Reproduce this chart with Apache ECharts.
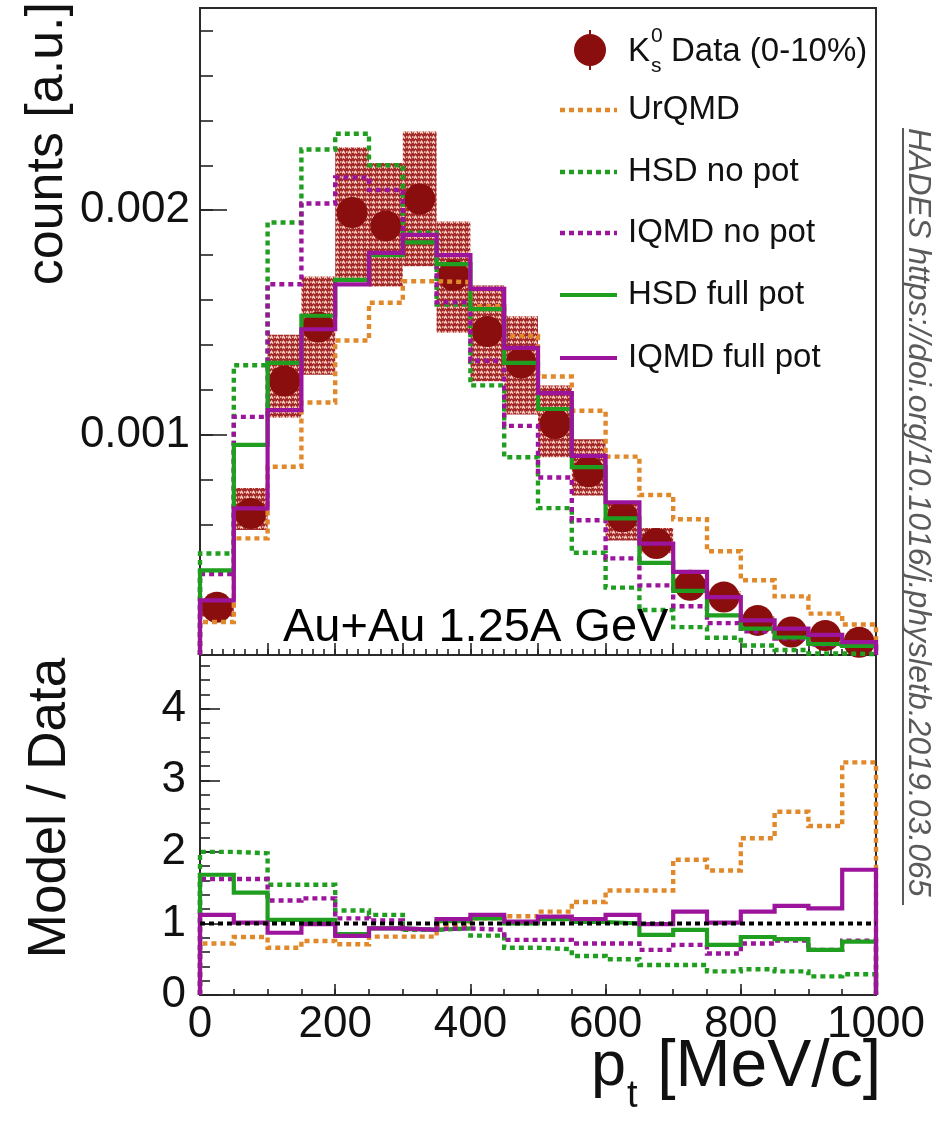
<!DOCTYPE html>
<html>
<head>
<meta charset="utf-8">
<title>K0s pt spectrum, Au+Au 1.25A GeV</title>
<script src="https://cdn.jsdelivr.net/npm/echarts@6/dist/echarts.min.js"></script>
<style>
  html, body { margin: 0; padding: 0; background: #fff; }
  #chart { width: 944px; height: 1121px; }
</style>
</head>
<body>
<div id="chart"></div>
<script>
// ---- data: pt bins of 50 MeV/c (lower edges) ----
const binLow = [0, 50, 100, 150, 200, 250, 300, 350, 400, 450,
                500, 550, 600, 650, 700, 750, 800, 850, 900, 950];
const binWidth = 50;

// measured K0s spectrum (0-10%), counts [a.u.]
const dataK0s = [0.000232, 0.00065, 0.00124, 0.00148, 0.00199, 0.00193, 0.00205, 0.00171, 0.00146, 0.00132,
                 0.00105, 0.000836, 0.000635, 0.000516, 0.00033, 0.000278, 0.000174, 0.000122, 0.000107, 0.000077];
// systematic band (lower / upper edge)
const sysLow  = [0.00019, 0.000576, 0.001076, 0.001268, 0.00168, 0.00166, 0.00175, 0.001454, 0.001238, 0.00109,
                 0.0009, 0.00073, 0.00053, 0.000473, 0.0003, 0.00025, 0.000155, 0.000108, 0.000094, 0.000067];
const sysHigh = [0.000262, 0.000763, 0.001446, 0.001705, 0.00228, 0.00221, 0.00235, 0.00195, 0.001665, 0.001528,
                 0.00122, 0.00098, 0.0007, 0.000585, 0.00036, 0.000305, 0.000193, 0.000136, 0.00012, 0.000087];

// transport model predictions
const urqmd       = [0.000167, 0.000539, 0.000858, 0.001144, 0.00142, 0.001588, 0.001684, 0.00168, 0.001573, 0.00144,
                     0.00126, 0.001107, 0.000903, 0.000732, 0.000624, 0.000482, 0.000353, 0.000281, 0.000204, 0.000156];
const hsdNoPot    = [0.000472, 0.00131, 0.001945, 0.00227, 0.00234, 0.0022, 0.0019, 0.00158, 0.00122, 0.0009,
                     0.000674, 0.000475, 0.00032, 0.00022, 0.000144, 0.000097, 0.000062, 0.000042, 0.000027, 0.000024];
const iqmdNoPot   = [0.00038, 0.00108, 0.00167, 0.00203, 0.002146, 0.00209, 0.00186, 0.00159, 0.00133, 0.00104,
                     0.00081, 0.00062, 0.00045, 0.00033, 0.000237, 0.000162, 0.000125, 0.000093, 0.000067, 0.000059];
const hsdFullPot  = [0.000397, 0.000955, 0.00132, 0.00153, 0.00169, 0.0018, 0.001857, 0.00176, 0.00156, 0.00132,
                     0.001115, 0.000856, 0.000628, 0.00043, 0.000305, 0.000196, 0.000137, 0.000098, 0.000069, 0.00006];
const iqmdFullPot = [0.000263, 0.000673, 0.00111, 0.00147, 0.00167, 0.00181, 0.00189, 0.0018, 0.00165, 0.001387,
                     0.001186, 0.000906, 0.0007, 0.000516, 0.00039, 0.000278, 0.000174, 0.000137, 0.00011, 0.000077];

// model / data ratios
const ratioUrqmd       = [0.72, 0.81, 0.66, 0.755, 0.71, 0.815, 0.815, 0.98, 1.07, 1.10,
                          1.165, 1.30, 1.46, 1.46, 1.89, 1.74, 2.19, 2.56, 2.36, 3.25];
const ratioHsdNoPot    = [2.0, 1.98, 1.54, 1.54, 1.18, 1.12, 0.91, 0.93, 0.83, 0.66,
                          0.64, 0.545, 0.5, 0.42, 0.42, 0.33, 0.36, 0.33, 0.26, 0.29];
const ratioIqmdNoPot   = [1.62, 1.62, 1.32, 1.35, 1.07, 1.04, 0.92, 0.93, 0.91, 0.77,
                          0.77, 0.72, 0.72, 0.63, 0.70, 0.58, 0.72, 0.76, 0.63, 0.76];
const ratioHsdFullPot  = [1.68, 1.43, 1.05, 1.05, 0.85, 0.93, 0.91, 1.03, 1.07, 1.0,
                          1.06, 1.02, 1.0, 0.84, 0.91, 0.70, 0.81, 0.78, 0.63, 0.745];
const ratioIqmdFullPot = [1.12, 1.01, 0.87, 0.99, 0.825, 0.93, 0.91, 1.06, 1.12, 1.025,
                          1.095, 1.06, 1.12, 0.99, 1.165, 1.01, 1.165, 1.245, 1.21, 1.75];
const unity = [1, 1];

// axis ranges and tick labels
const ptRange = [0, 1000];
const countsRange = [0.00002, 0.0029];
const ratioRange = [0, 4.75];
const ptLabels = [0, 200, 400, 600, 800, 1000];
const countsLabels = [0.001, 0.002];
const ratioLabels = [0, 1, 2, 3, 4];

// ---- styling ----
const FONT = "'Liberation Sans', Arial, Helvetica, sans-serif";
const TXT = '#111';
const C_DATA = '#8a0e0e';
const C_URQMD = '#e0882a';
const C_HSD = '#1f9e1f';
const C_IQMD = '#9c149c';
const DASH = [5, 4];
const W_DASH = 4.4;
const W_SOLID = 4.2;

// red hatched fill for the systematic boxes
function hatchCanvas() {
  const c = document.createElement('canvas');
  c.width = 6; c.height = 5;
  const g = c.getContext('2d');
  g.fillStyle = '#a32a2a';
  g.fillRect(0, 0, 6, 5);
  g.strokeStyle = '#f8d2c4';
  g.lineWidth = 1.5;
  g.beginPath();
  g.moveTo(0, 3.6); g.lineTo(1.5, 1.4); g.lineTo(3, 3.6);
  g.stroke();
  g.fillStyle = '#eaa898';
  g.fillRect(4, 1, 1.5, 2);
  return c;
}
const hatch = { image: hatchCanvas(), repeat: 'repeat' };

// histogram outline points (drawn with step:'end'), starting and ending on the floor
function histPoints(values, floor) {
  const last = binLow[binLow.length - 1] + binWidth;
  const pts = [[binLow[0], floor]];
  values.forEach((v, i) => pts.push([binLow[i], v]));
  pts.push([last, values[values.length - 1]]);
  pts.push([last, floor]);
  return pts;
}

function stepSeries(name, values, floor, color, dashed, xi, yi, z) {
  return {
    name, type: 'line', step: 'end', xAxisIndex: xi, yAxisIndex: yi,
    data: histPoints(values, floor), symbol: 'none', silent: true, z,
    lineStyle: { color, width: dashed ? W_DASH : W_SOLID, type: dashed ? DASH : 'solid', cap: 'butt', join: 'miter' },
    animation: false, clip: true
  };
}

function range(a, b, step) {
  const out = [];
  for (let v = a; v <= b + 1e-9; v += step) out.push(+v.toFixed(6));
  return out;
}

function tickAxis(grid, pos, min, max, ticks, len, labels, labelOpt) {
  return {
    type: 'value', gridIndex: grid, position: pos, min, max,
    axisLine: { show: false, onZero: false },
    splitLine: { show: false },
    axisTick: { show: true, inside: true, length: len, customValues: ticks,
                lineStyle: { color: '#222', width: 1.6 } },
    axisLabel: labels ? Object.assign({ show: true, customValues: labels, color: TXT,
                fontFamily: FONT, fontSize: 44 }, labelOpt || {}) : { show: false }
  };
}

const chart = echarts.init(document.getElementById('chart'), null, { renderer: 'canvas' });

const topFloor = countsRange[0];
const botFloor = ratioRange[0];

const option = {
  backgroundColor: '#fff',
  animation: false,
  grid: [
    { left: 200, top: 8, width: 676, height: 647, show: true, borderColor: '#2a2a2a', borderWidth: 2, backgroundColor: 'transparent' },
    { left: 200, top: 655, width: 676, height: 340, show: true, borderColor: '#2a2a2a', borderWidth: 2, backgroundColor: 'transparent' }
  ],
  xAxis: [
    tickAxis(0, 'bottom', ptRange[0], ptRange[1], range(0, 1000, 100), 12, null),
    tickAxis(0, 'bottom', ptRange[0], ptRange[1], range(0, 1000, 100 / 6), 6, null),
    tickAxis(1, 'bottom', ptRange[0], ptRange[1], ptLabels, 11, ptLabels, { margin: 8, formatter: v => String(v) }),
    tickAxis(1, 'bottom', ptRange[0], ptRange[1], range(0, 1000, 50), 6, null)
  ],
  yAxis: [
    tickAxis(0, 'left', countsRange[0], countsRange[1], countsLabels, 27, countsLabels, { margin: 10, formatter: v => v.toFixed(3) }),
    tickAxis(0, 'left', countsRange[0], countsRange[1], range(0.0002, 0.0028, 0.0002), 13, null),
    tickAxis(1, 'left', ratioRange[0], ratioRange[1], ratioLabels, 20, ratioLabels, { margin: 14, formatter: v => String(v) }),
    tickAxis(1, 'left', ratioRange[0], ratioRange[1], range(0.2, 4.6, 0.2), 10, null)
  ],
  series: [
    // systematic uncertainty boxes
    {
      name: 'sys', type: 'custom', xAxisIndex: 0, yAxisIndex: 0, z: 1, silent: true,
      data: binLow.map((x, i) => [x, sysLow[i], sysHigh[i]]),
      encode: { x: 0, y: [1, 2] },
      renderItem(params, api) {
        const x0 = api.value(0);
        const p0 = api.coord([x0, api.value(2)]);
        const p1 = api.coord([x0 + binWidth, api.value(1)]);
        return { type: 'rect', shape: { x: p0[0], y: p0[1], width: p1[0] - p0[0], height: p1[1] - p0[1] },
                 style: { fill: hatch } };
      }
    },
    // data points
    {
      name: 'K0s data', type: 'scatter', xAxisIndex: 0, yAxisIndex: 0, z: 2, silent: true,
      symbol: 'circle', symbolSize: 31,
      itemStyle: { color: C_DATA, opacity: 1 },
      data: binLow.map((x, i) => [x + binWidth / 2, dataK0s[i]])
    },
    stepSeries('UrQMD', urqmd, topFloor, C_URQMD, true, 0, 0, 3),
    stepSeries('HSD no pot', hsdNoPot, topFloor, C_HSD, true, 0, 0, 3),
    stepSeries('IQMD no pot', iqmdNoPot, topFloor, C_IQMD, true, 0, 0, 3),
    stepSeries('HSD full pot', hsdFullPot, topFloor, C_HSD, false, 0, 0, 4),
    stepSeries('IQMD full pot', iqmdFullPot, topFloor, C_IQMD, false, 0, 0, 5),

    // ratio panel
    {
      name: 'unity', type: 'line', xAxisIndex: 2, yAxisIndex: 2, z: 6, silent: true, symbol: 'none',
      data: [[ptRange[0], unity[0]], [ptRange[1], unity[1]]],
      lineStyle: { color: '#000', width: 4, type: [5, 4], cap: 'butt' }
    },
    stepSeries('UrQMD / data', ratioUrqmd, botFloor, C_URQMD, true, 2, 2, 3),
    stepSeries('HSD no pot / data', ratioHsdNoPot, botFloor, C_HSD, true, 2, 2, 3),
    stepSeries('IQMD no pot / data', ratioIqmdNoPot, botFloor, C_IQMD, true, 2, 2, 3),
    stepSeries('HSD full pot / data', ratioHsdFullPot, botFloor, C_HSD, false, 2, 2, 4),
    stepSeries('IQMD full pot / data', ratioIqmdFullPot, botFloor, C_IQMD, false, 2, 2, 5)
  ],
  graphic: [
    // axis titles
    { type: 'text', x: 48, y: 2, rotation: Math.PI / 2,
      style: { text: 'counts [a.u.]', font: `52px ${FONT}`, fill: TXT, align: 'right', verticalAlign: 'middle' } },
    { type: 'text', x: 50, y: 808, rotation: Math.PI / 2,
      style: { text: 'Model / Data', font: `53px ${FONT}`, fill: TXT, align: 'center', verticalAlign: 'middle' } },
    { type: 'text', x: 591, y: 1068,
      style: { text: 'p', font: `63px ${FONT}`, fill: TXT, align: 'left', verticalAlign: 'middle' } },
    { type: 'text', x: 627, y: 1097,
      style: { text: 't', font: `38px ${FONT}`, fill: TXT, align: 'left', verticalAlign: 'middle' } },
    { type: 'text', x: 881, y: 1068,
      style: { text: '[MeV/c]', font: `66px ${FONT}`, fill: TXT, align: 'right', verticalAlign: 'middle' } },
    // system label
    { type: 'text', x: 283, y: 628, z: 10,
      style: { text: 'Au+Au 1.25A GeV', font: `47px ${FONT}`, fill: '#000', align: 'left', verticalAlign: 'middle' } },
    // reference note on the right
    { type: 'text', x: 918, y: 128, rotation: -Math.PI / 2,
      style: { text: 'HADES https://doi.org/10.1016/j.physletb.2019.03.065', font: `italic 32px ${FONT}`,
               fill: '#5a5a5a', align: 'left', verticalAlign: 'middle' } },
    { type: 'line', shape: { x1: 903, y1: 128, x2: 903, y2: 905 }, style: { stroke: '#5a5a5a', lineWidth: 2 } },

    // legend
    { type: 'line', shape: { x1: 590, y1: 30, x2: 590, y2: 70 }, style: { stroke: C_DATA, lineWidth: 2 }, z: 10 },
    { type: 'circle', shape: { cx: 590, cy: 50, r: 16 }, style: { fill: C_DATA }, z: 10 },
    { type: 'text', x: 628, y: 52, z: 10, style: { text: 'K', font: `33px ${FONT}`, fill: TXT, verticalAlign: 'middle' } },
    { type: 'text', x: 651, y: 36, z: 10, style: { text: '0', font: `21px ${FONT}`, fill: TXT, verticalAlign: 'middle' } },
    { type: 'text', x: 651, y: 66, z: 10, style: { text: 's', font: `21px ${FONT}`, fill: TXT, verticalAlign: 'middle' } },
    { type: 'text', x: 671, y: 52, z: 10, style: { text: 'Data (0-10%)', font: `33px ${FONT}`, fill: TXT, verticalAlign: 'middle' } },

    { type: 'line', shape: { x1: 560, y1: 110, x2: 617, y2: 110 }, style: { stroke: C_URQMD, lineWidth: W_DASH, lineDash: DASH }, z: 10 },
    { type: 'text', x: 628, y: 110, z: 10, style: { text: 'UrQMD', font: `33px ${FONT}`, fill: TXT, verticalAlign: 'middle' } },
    { type: 'line', shape: { x1: 560, y1: 172, x2: 617, y2: 172 }, style: { stroke: C_HSD, lineWidth: W_DASH, lineDash: DASH }, z: 10 },
    { type: 'text', x: 628, y: 172, z: 10, style: { text: 'HSD no pot', font: `33px ${FONT}`, fill: TXT, verticalAlign: 'middle' } },
    { type: 'line', shape: { x1: 560, y1: 233, x2: 617, y2: 233 }, style: { stroke: C_IQMD, lineWidth: W_DASH, lineDash: DASH }, z: 10 },
    { type: 'text', x: 628, y: 233, z: 10, style: { text: 'IQMD no pot', font: `33px ${FONT}`, fill: TXT, verticalAlign: 'middle' } },
    { type: 'line', shape: { x1: 560, y1: 295, x2: 617, y2: 295 }, style: { stroke: C_HSD, lineWidth: W_SOLID }, z: 10 },
    { type: 'text', x: 628, y: 295, z: 10, style: { text: 'HSD full pot', font: `33px ${FONT}`, fill: TXT, verticalAlign: 'middle' } },
    { type: 'line', shape: { x1: 560, y1: 358, x2: 617, y2: 358 }, style: { stroke: C_IQMD, lineWidth: W_SOLID }, z: 10 },
    { type: 'text', x: 628, y: 358, z: 10, style: { text: 'IQMD full pot', font: `33px ${FONT}`, fill: TXT, verticalAlign: 'middle' } }
  ]
};

chart.setOption(option);
</script>
</body>
</html>
